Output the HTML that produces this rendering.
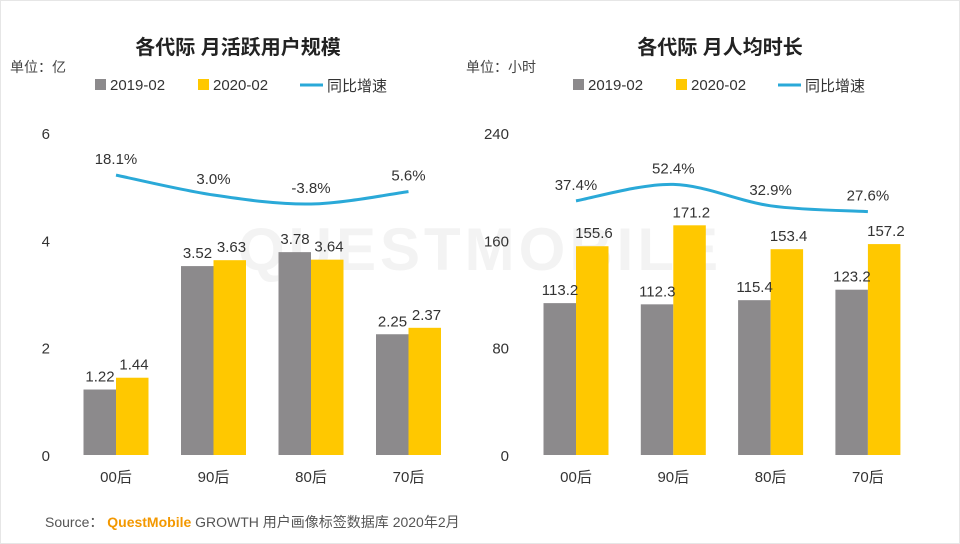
<!DOCTYPE html>
<html><head><meta charset="utf-8">
<style>
body{margin:0;background:#fff;}
svg{display:block;font-family:"Liberation Sans","Noto Sans CJK SC",sans-serif;}
</style></head>
<body>
<svg id="c" width="960" height="544" viewBox="0 0 960 544">
<rect x="0.5" y="0.5" width="959" height="543" fill="#fff" stroke="#e6e6e6"/>
<text x="480" y="270" font-size="60" fill="#f3f3f3" text-anchor="middle" font-weight="bold" letter-spacing="4">QUESTMOBILE</text>
<g id="g"></g>
<text x="45" y="527" font-size="14" fill="#555">Source：  <tspan fill="#f39800" font-weight="bold">QuestMobile</tspan> GROWTH 用户画像标签数据库 2020年2月</text>
</svg>
<script>
const categories=["00后","90后","80后","70后"];
const mauPrev=[1.22,3.52,3.78,2.25];
const mauCur=[1.44,3.63,3.64,2.37];
const mauGrowth=[18.1,3.0,-3.8,5.6];
const mauTicks=[0,2,4,6];
const timePrev=[113.2,112.3,115.4,123.2];
const timeCur=[155.6,171.2,153.4,157.2];
const timeGrowth=[37.4,52.4,32.9,27.6];
const timeTicks=[0,80,160,240];

const NS="http://www.w3.org/2000/svg";
const g=document.getElementById('g');
function mk(t,a,txt){const e=document.createElementNS(NS,t);for(const k in a)e.setAttribute(k,a[k]);if(txt!=null)e.textContent=txt;g.appendChild(e);return e;}

function chart(o){
  const y=v=>455-(v/o.max)*322;
  const y2=v=>o.g0-o.gk*v;
  let t=mk('text',{x:o.cx,y:54,'font-size':20,'font-weight':'bold','text-anchor':'middle',fill:'#222'},o.title);
  
  t=mk('text',{x:o.ux,y:72,'font-size':14,fill:'#444'},o.unit);
  
  // legend
  let r=mk('rect',{x:o.lx,y:79,width:11,height:11,fill:'#8c8a8c'});
  
  t=mk('text',{x:o.lx+15,y:90,'font-size':15,fill:'#333'},'2019-02');
  
  r=mk('rect',{x:o.lx+103,y:79,width:11,height:11,fill:'#ffc800'});
  
  t=mk('text',{x:o.lx+118,y:90,'font-size':15,fill:'#333'},'2020-02');
  
  let l=mk('line',{x1:o.lx+205,y1:85,x2:o.lx+228,y2:85,stroke:'#2aa9d8','stroke-width':3});
  
  t=mk('text',{x:o.lx+232,y:91,'font-size':15,fill:'#333'},'同比增速');
  
  o.ticks.forEach(v=>{
    const e=mk('text',{x:o.tx,y:y(v)+6,'font-size':15,fill:'#333','text-anchor':'end'},v);
    
  });
  const pts=[];
  categories.forEach((c,i)=>{
    const cx=o.x0+i*o.step;
    const a=mk('rect',{x:cx-32.5,y:y(o.prev[i]),width:32.5,height:455-y(o.prev[i]),fill:'#8c8a8c'});
    
    const b=mk('rect',{x:cx,y:y(o.cur[i]),width:32.5,height:455-y(o.cur[i]),fill:'#ffc800'});
    
    let e=mk('text',{x:cx-16,y:y(o.prev[i])-8,'font-size':15,fill:'#333','text-anchor':'middle'},o.prev[i].toFixed(o.dec));
    
    e=mk('text',{x:cx+18,y:y(o.cur[i])-8,'font-size':15,fill:'#333','text-anchor':'middle'},o.cur[i].toFixed(o.dec));
    
    e=mk('text',{x:cx,y:482,'font-size':15,fill:'#333','text-anchor':'middle'},c);
    
    pts.push([cx,y2(o.growth[i])]);
    e=mk('text',{x:cx,y:y2(o.growth[i])-11,'font-size':15,fill:'#333','text-anchor':'middle'},o.growth[i].toFixed(1)+'%');
    
  });
  let d='M'+pts[0][0]+','+pts[0][1];
  for(let i=0;i<pts.length-1;i++){
    const p0=pts[Math.max(0,i-1)],p1=pts[i],p2=pts[i+1],p3=pts[Math.min(pts.length-1,i+2)];
    const c1=[p1[0]+(p2[0]-p0[0])/6,p1[1]+(p2[1]-p0[1])/6],c2=[p2[0]-(p3[0]-p1[0])/6,p2[1]-(p3[1]-p1[1])/6];
    d+=' C'+c1+' '+c2+' '+p2;
  }
  const p=mk('path',{d:d,fill:'none',stroke:'#2aa9d8','stroke-width':3});
  
}
chart({id:'mau',title:'各代际 月活跃用户规模',unit:'单位：亿',cx:238,ux:10,lx:95,tx:50,max:6,ticks:mauTicks,
  prev:mauPrev,cur:mauCur,growth:mauGrowth,x0:116,step:97.5,g0:199,gk:1.32,dec:2});
chart({id:'time',title:'各代际 月人均时长',unit:'单位：小时',cx:720,ux:466,lx:573,tx:509,max:240,ticks:timeTicks,
  prev:timePrev,cur:timeCur,growth:timeGrowth,x0:576,step:97.3,g0:242,gk:1.1,dec:1});
</script>
</body></html>
